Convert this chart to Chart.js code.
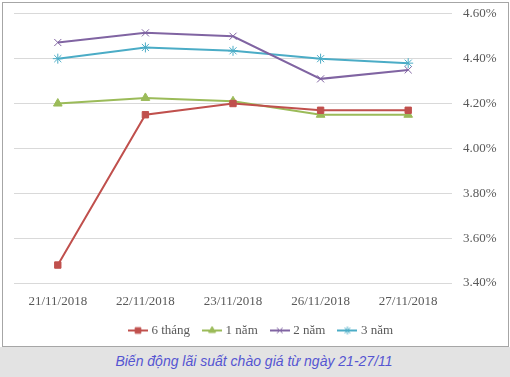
<!DOCTYPE html>
<html lang="vi">
<head>
    <meta charset="UTF-8">
    <title>Biến động lãi suất chào giá</title>
    <script src="https://cdn.jsdelivr.net/npm/chart.js"></script>
    <style>
        html, body {
            margin: 0;
            padding: 0;
            background: #ffffff;
        }
        .page {
            position: relative;
            width: 510px;
            height: 377px;
            overflow: hidden;
        }
        .frame {
            position: absolute;
            left: 2px;
            top: 2px;
            width: 505px;
            height: 343px;
            border: 1px solid #a6a6a6;
        }
        .band {
            position: absolute;
            left: 0;
            top: 347px;
            width: 510px;
            height: 30px;
            background: #e3e3e3;
        }
        .caption {
            position: absolute;
            left: 0;
            top: 353px;
            width: 508px;
            text-align: center;
            font-family: "Liberation Sans", Arial, sans-serif;
            font-style: italic;
            font-size: 14px;
            color: #5555d2;
        }
        .chart-box {
            position: absolute;
            left: 0;
            top: -5px;
            width: 510px;
            height: 352px;
        }
    </style>
</head>
<body>
<div class="page">
    <div class="band"></div>
    <div class="caption">Biến động lãi suất chào giá từ ngày 21-27/11</div>
    <div class="frame"></div>
    <div class="chart-box"><canvas id="chart"></canvas></div>
</div>

<script>
    const dates = ['21/11/2018', '22/11/2018', '23/11/2018', '26/11/2018', '27/11/2018'];
    const sixMonths = [3.48, 4.15, 4.20, 4.17, 4.17];
    const oneYear = [4.20, 4.225, 4.21, 4.15, 4.15];
    const twoYears = [4.472, 4.515, 4.50, 4.31, 4.35];
    const threeYears = [4.40, 4.45, 4.435, 4.40, 4.38];
    const seriesNames = ['6 tháng', '1 năm', '2 năm', '3 năm'];

    const colors = ['#c0504d', '#9bbb59', '#8064a2', '#4bacc6'];
    const markers = ['rect', 'triangle', 'crossRot', 'star'];

    // little line + marker icon for the legend, like Excel does
    function legendIcon(color, marker) {
        const c = document.createElement('canvas');
        c.width = 20;
        c.height = 10;
        const ctx = c.getContext('2d');
        ctx.strokeStyle = color;
        ctx.fillStyle = color;
        ctx.lineWidth = 2;
        ctx.beginPath();
        ctx.moveTo(0, 5);
        ctx.lineTo(20, 5);
        ctx.stroke();
        ctx.lineWidth = 1;
        Chart.helpers.drawPoint(ctx, { pointStyle: marker, radius: 4, rotation: 0, borderWidth: 1 }, 10, 5);
        return c;
    }

    const allData = [sixMonths, oneYear, twoYears, threeYears];
    const datasets = allData.map((vals, i) => ({
        label: seriesNames[i],
        data: vals,
        borderColor: colors[i],
        backgroundColor: colors[i],
        pointStyle: markers[i],
        pointRadius: i === 0 ? 4.5 : 5,
        pointBorderWidth: 1,
        borderWidth: 2,
        tension: 0,
        fill: false
    }));

    new Chart(document.getElementById('chart'), {
        type: 'line',
        data: { labels: dates, datasets: datasets },
        options: {
            responsive: true,
            maintainAspectRatio: false,
            animation: false,
            layout: { padding: { left: 14, top: 14, right: 0, bottom: 0 } },
            scales: {
                x: {
                    offset: true,
                    grid: { display: false, drawTicks: false },
                    border: { display: false },
                    ticks: {
                        padding: 11,
                        maxRotation: 0,
                        color: '#595959',
                        font: { family: '"Liberation Serif", "Times New Roman", serif', size: 13 }
                    },
                    afterFit: s => { s.height = 26; }
                },
                y: {
                    position: 'right',
                    min: 3.4,
                    max: 4.6,
                    grid: { color: '#d9d9d9', drawTicks: false },
                    border: { display: false },
                    ticks: {
                        stepSize: 0.2,
                        padding: 11,
                        color: '#595959',
                        font: { family: '"Liberation Serif", "Times New Roman", serif', size: 13 },
                        callback: v => v.toFixed(2) + '%'
                    },
                    afterFit: s => { s.width = 58; }
                }
            },
            plugins: {
                legend: {
                    position: 'bottom',
                    labels: {
                        usePointStyle: true,
                        pointStyleWidth: 14,
                        padding: 15,
                        color: '#595959',
                        font: { family: '"Liberation Serif", "Times New Roman", serif', size: 13 },
                        generateLabels: chart => {
                            const items = Chart.defaults.plugins.legend.labels.generateLabels(chart);
                            items.forEach((it, i) => {
                                it.pointStyle = legendIcon(colors[i], markers[i]);
                            });
                            return items;
                        }
                    }
                },
                tooltip: { enabled: false }
            }
        }
    });
</script>
</body>
</html>
